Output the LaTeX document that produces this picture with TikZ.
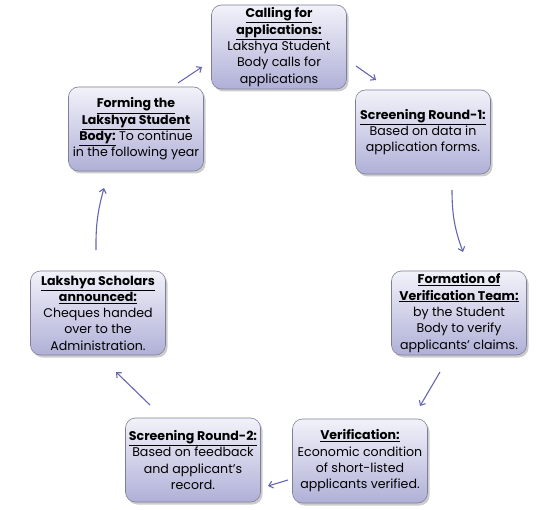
\documentclass[tikz,border=0pt]{standalone}
\usepackage{fontspec}
\setmainfont{Poppins}
\usetikzlibrary{shadows,arrows.meta}

\definecolor{boxtop}{HTML}{F2F2FA}
\definecolor{boxbot}{HTML}{B0B0D8}
\definecolor{boxline}{HTML}{7F7F99}
\definecolor{arrowc}{HTML}{6666B0}

\newcommand{\ttl}[1]{\underline{\textbf{#1}}}

\tikzset{
  stage/.style={rectangle, rounded corners=10pt, draw=boxline, line width=0.6pt,
    top color=boxtop, bottom color=boxbot,
    drop shadow={shadow xshift=2pt, shadow yshift=-2.5pt, fill=black!40},
    minimum width=135pt, minimum height=84pt, inner sep=1pt, align=center,
    font=\fontsize{12.6}{16.3}\selectfont},
  flow/.style={draw=arrowc, line width=1.1pt, -{Straight Barb[length=4pt,width=7pt]}},
}

\begin{document}
\begin{tikzpicture}[x=1pt,y=-1pt]
\useasboundingbox (0,0) rectangle (556,510);

\node[stage] (call) at (279,47) {\ttl{Calling for}\\ \ttl{applications:}\\ Lakshya Student\\ Body calls for\\ applications};
\node[stage] (scr1) at (423,132) {\ttl{Screening Round-1:}\\ Based on data in\\ application forms.};
\node[stage] (form) at (459,313) {\ttl{Formation of}\\ \ttl{Verification Team:}\\ by the Student\\ Body to verify\\ applicants’ claims.};
\node[stage] (verif) at (360,461) {\ttl{Verification:}\\ Economic condition\\ of short-listed\\ applicants verified.};
\node[stage] (scr2) at (193,460) {\ttl{Screening Round-2:}\\ Based on feedback\\ and applicant’s\\ record.};
\node[stage] (schol) at (98,313) {\ttl{Lakshya Scholars}\\ \ttl{announced:}\\ Cheques handed\\ over to the\\ Administration.};
\node[stage] (body) at (136,129) {\ttl{Forming the}\\ \ttl{Lakshya Student}\\ \ttl{Body:} To continue\\ in the following year};

% arrow ends
\coordinate (a1) at (178,83);  \coordinate (a2) at (202,67);
\coordinate (b1) at (356,66);  \coordinate (b2) at (376,80);
\coordinate (c1) at (452,190); \coordinate (c2) at (463,252);
\coordinate (d1) at (440,372); \coordinate (d2) at (420,406);
\coordinate (e1) at (288,480); \coordinate (e2) at (268,486);
\coordinate (f1) at (150,405); \coordinate (f2) at (116,372);
\coordinate (g1) at (96,250);  \coordinate (g2) at (104,188);

\draw[flow] (a1) -- (a2);
\draw[flow] (b1) -- (b2);
\draw[flow] (c1) to[bend right=10] (c2);
\draw[flow] (d1) -- (d2);
\draw[flow] (e1) -- (e2);
\draw[flow] (f1) -- (f2);
\draw[flow] (g1) to[bend left=8] (g2);
\end{tikzpicture}
\end{document}
